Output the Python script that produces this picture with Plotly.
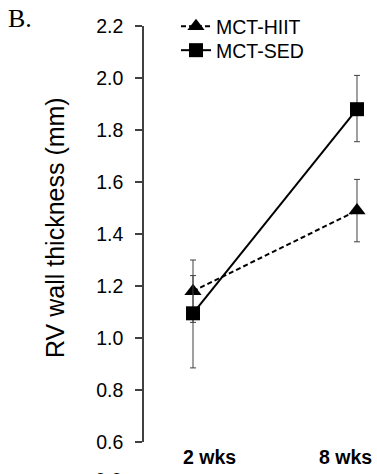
import plotly.graph_objects as go

# ---- data ----
categories = ["2 wks", "8 wks"]
x_pos = [0, 1]
hiit_mean = [1.18, 1.49]
hiit_err_plus = [0.12, 0.12]
hiit_err_minus = [0.12, 0.12]
sed_mean = [1.095, 1.88]
sed_err_plus = [0.145, 0.13]
sed_err_minus = [0.21, 0.125]
y_ticks = [0.6, 0.8, 1.0, 1.2, 1.4, 1.6, 1.8, 2.0, 2.2]

FONT = "Liberation Sans, Arial, sans-serif"
AX = "#404040"

fig = go.Figure()
fig.add_trace(go.Scatter(
    x=x_pos, y=hiit_mean, name="MCT-HIIT", mode="lines+markers",
    line=dict(color="black", width=2, dash="5px,3px"),
    marker=dict(symbol="triangle-up", size=15, color="black"),
    error_y=dict(type="data", symmetric=False, array=hiit_err_plus,
                 arrayminus=hiit_err_minus, color=AX, thickness=1, width=3),
    cliponaxis=False, legend="legend",
))
fig.add_trace(go.Scatter(
    x=x_pos, y=sed_mean, name="MCT-SED", mode="lines+markers",
    line=dict(color="black", width=2),
    marker=dict(symbol="square", size=14, color="black"),
    error_y=dict(type="data", symmetric=False, array=sed_err_plus,
                 arrayminus=sed_err_minus, color=AX, thickness=1, width=3),
    cliponaxis=False, legend="legend2",
))

W, H = 377, 474
L, R, T, B = 144, 0, 26, 32
pw = W - L - R
ph = H - T - B

def px_x(x):
    return (x - L) / pw

def px_y(y):
    return (H - B - y) / ph

annotations = []
# category labels (bold, offset like reference)
for cat, cx in zip(categories, [209, 345.5]):
    annotations.append(dict(text=f"<b>{cat}</b>", xref="paper", yref="paper",
                            x=px_x(cx), y=px_y(457), xanchor="center", yanchor="middle",
                            showarrow=False, font=dict(family=FONT, size=19.5, color="black")))
# y-axis title
annotations.append(dict(text="RV wall thickness (mm)", xref="paper", yref="paper",
                        x=px_x(55), y=px_y(228), xanchor="center", yanchor="middle",
                        textangle=-90, showarrow=False,
                        font=dict(family=FONT, size=25, color="black")))
# panel letter
annotations.append(dict(text="B.", xref="paper", yref="paper",
                        x=px_x(6), y=px_y(2), xanchor="left", yanchor="top",
                        showarrow=False,
                        font=dict(family="Liberation Serif, Times New Roman, serif", size=26, color="black")))
# clipped tick label of lower axis segment
annotations.append(dict(text="0.0", xref="paper", yref="paper",
                        x=px_x(124), y=px_y(467), xanchor="right", yanchor="top",
                        showarrow=False, font=dict(family=FONT, size=19.5, color="black")))

fig.update_layout(
    width=W, height=H, autosize=False,
    margin=dict(l=L, r=R, t=T, b=B, pad=0),
    paper_bgcolor="white", plot_bgcolor="white",
    font=dict(family=FONT, color="black"),
    xaxis=dict(range=[-0.2988, 1.122], visible=False, showgrid=False, zeroline=False),
    yaxis=dict(range=[0.6, 2.2], tickvals=y_ticks, tickformat=".1f",
               showgrid=False, zeroline=False, showline=True, linecolor=AX, linewidth=1.5,
               ticks="outside", ticklen=7, tickwidth=1.5, tickcolor=AX,
               ticklabelstandoff=8,
               tickfont=dict(family=FONT, size=19.5, color="black")),
    legend=dict(x=px_x(176), y=px_y(26.5), xanchor="left", yanchor="middle",
                bgcolor="rgba(0,0,0,0)", font=dict(family=FONT, size=19.5, color="black"),
                itemwidth=30),
    legend2=dict(x=px_x(176), y=px_y(50.5), xanchor="left", yanchor="middle",
                 bgcolor="rgba(0,0,0,0)", font=dict(family=FONT, size=19.5, color="black"),
                 itemwidth=30),
    annotations=annotations,
    showlegend=True,
)

fig.write_html("out.html")
